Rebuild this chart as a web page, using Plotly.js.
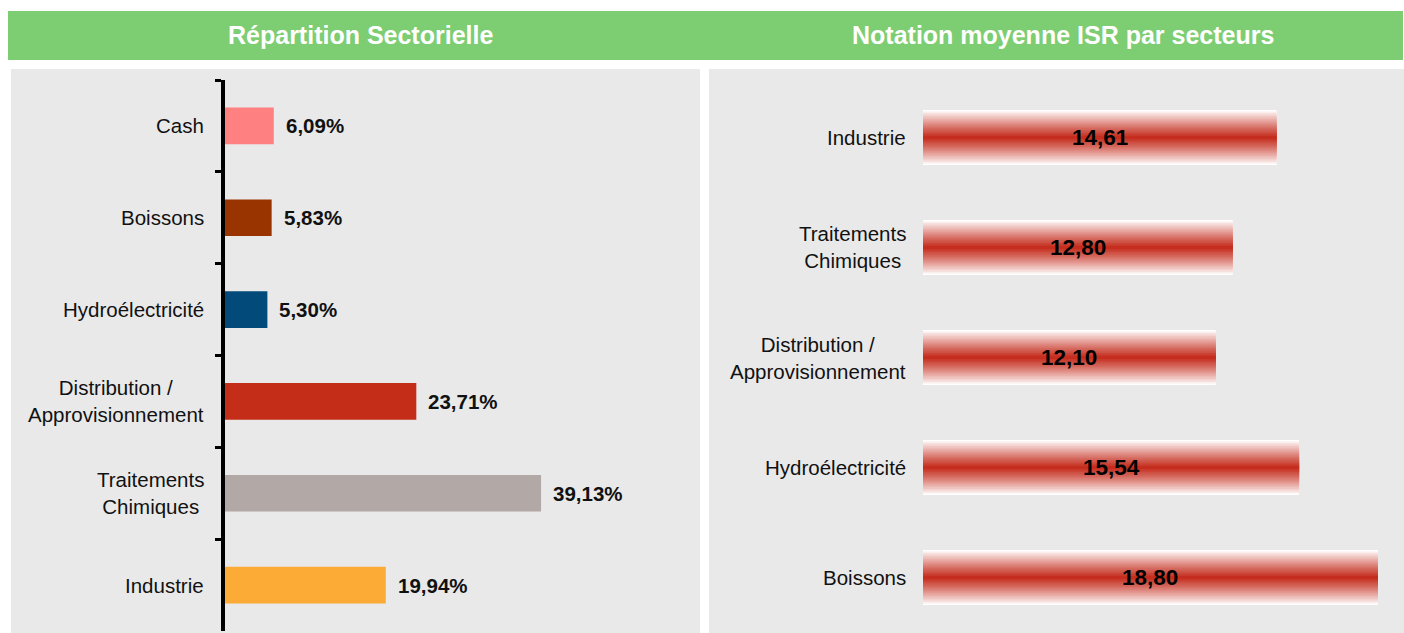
<!DOCTYPE html>
<html>
<head>
<meta charset="utf-8">
<script src="https://cdn.plot.ly/plotly-3.0.1.min.js"></script>
<style>
  html, body { margin: 0; padding: 0; background: #ffffff; }
  #chart { width: 1404px; height: 633px; }
</style>
</head>
<body>
<div id="chart"></div>
<script>
// ---------- Data ----------
const leftTitle = 'Répartition Sectorielle';
const rightTitle = 'Notation moyenne ISR par secteurs';

const leftCategories = ['Cash', 'Boissons', 'Hydroélectricité', 'Distribution /<br>Approvisionnement', 'Traitements<br>Chimiques', 'Industrie'];
const leftValues = [6.09, 5.83, 5.30, 23.71, 39.13, 19.94];
const leftLabels = ['6,09%', '5,83%', '5,30%', '23,71%', '39,13%', '19,94%'];
const leftColors = ['#FF8080', '#993300', '#024A7A', '#C42E18', '#B2A8A5', '#FCAB36'];

const rightCategories = ['Industrie', 'Traitements<br>Chimiques', 'Distribution /<br>Approvisionnement', 'Hydroélectricité', 'Boissons'];
const rightValues = [14.61, 12.80, 12.10, 15.54, 18.80];
const rightLabels = ['14,61', '12,80', '12,10', '15,54', '18,80'];
const rightBarColor = [197, 46, 30];

// ---------- Layout helpers ----------
const W = 1404, H = 633;
const px = v => v / W;
const py = v => (H - v) / H;
const FONT = 'Arial, "Liberation Sans", Helvetica, sans-serif';

const traces = [];

// Left chart: simple horizontal bars
traces.push({
  type: 'bar', orientation: 'h',
  x: leftValues, y: leftCategories,
  width: leftValues.map(() => 0.4),
  marker: { color: leftColors, line: { width: 0 } },
  xaxis: 'x', yaxis: 'y',
  hoverinfo: 'skip', showlegend: false
});

// Right chart: gradient bars (white edges -> red centre) built from overlaid bars
const nSteps = 18;
for (let i = 0; i < nSteps; i++) {
  const t = Math.pow(i / (nSteps - 1), 0.9);
  const w = 0.5 * (1 - i / nSteps);
  const c = [0, 1, 2].map(k => Math.round(255 + (rightBarColor[k] - 255) * t));
  traces.push({
    type: 'bar', orientation: 'h',
    x: rightValues, y: rightCategories,
    width: rightValues.map(() => w),
    marker: { color: 'rgb(' + c.join(',') + ')', line: { width: 0 } },
    xaxis: 'x2', yaxis: 'y2',
    hoverinfo: 'skip', showlegend: false
  });
}

const annotations = [];
// headers
annotations.push({ xref: 'paper', yref: 'paper', x: px(360.5), y: py(35), xanchor: 'center', yanchor: 'middle',
  text: leftTitle, showarrow: false, font: { family: FONT, size: 25, color: '#ffffff', weight: 700 } });
annotations.push({ xref: 'paper', yref: 'paper', x: px(1063), y: py(35), xanchor: 'center', yanchor: 'middle',
  text: rightTitle, showarrow: false, font: { family: FONT, size: 25, color: '#ffffff', weight: 700 } });

// left category labels (centred multi-line, right anchored)
leftCategories.forEach(c => annotations.push({
  xref: 'x domain', yref: 'y', x: 0, y: c, xanchor: 'right', yanchor: 'middle', align: 'center',
  xshift: -19, text: c, showarrow: false, font: { family: FONT, size: 20.5, color: '#111111' }
}));
// left value labels
leftValues.forEach((v, i) => annotations.push({
  xref: 'x', yref: 'y', x: v, y: leftCategories[i], xanchor: 'left', yanchor: 'middle',
  xshift: 10, text: leftLabels[i], showarrow: false, font: { family: FONT, size: 20.5, color: '#111111', weight: 700 }
}));
// right category labels
rightCategories.forEach(c => annotations.push({
  xref: 'x2 domain', yref: 'y2', x: 0, y: c, xanchor: 'right', yanchor: 'middle', align: 'center',
  xshift: -15, text: c, showarrow: false, font: { family: FONT, size: 20.5, color: '#111111' }
}));
// right value labels (centred on bar)
rightValues.forEach((v, i) => annotations.push({
  xref: 'x2', yref: 'y2', x: v / 2, y: rightCategories[i], xanchor: 'center', yanchor: 'middle',
  text: rightLabels[i], showarrow: false, font: { family: FONT, size: 22.5, color: '#000000', weight: 700 }
}));

const shapes = [
  { type: 'rect', xref: 'paper', yref: 'paper', x0: px(8), x1: px(1403), y0: py(60), y1: py(11),
    fillcolor: '#7DCD73', line: { width: 0 }, layer: 'below' },
  { type: 'rect', xref: 'paper', yref: 'paper', x0: px(11), x1: px(700), y0: 0, y1: py(69),
    fillcolor: '#E9E9E9', line: { width: 0 }, layer: 'below' },
  { type: 'rect', xref: 'paper', yref: 'paper', x0: px(709), x1: 1, y0: 0, y1: py(69),
    fillcolor: '#E9E9E9', line: { width: 0 }, layer: 'below' }
];

const hiddenX = { showline: false, showticklabels: false, showgrid: false, zeroline: false, ticks: '', fixedrange: true };

const layout = {
  width: W, height: H,
  margin: { l: 0, r: 0, t: 0, b: 0 },
  paper_bgcolor: '#ffffff', plot_bgcolor: 'rgba(0,0,0,0)',
  barmode: 'overlay',
  showlegend: false,
  font: { family: FONT },
  xaxis: Object.assign({}, hiddenX, { domain: [px(224.5), px(690)], range: [0, (690 - 224.5) / 8.09], anchor: 'y' }),
  yaxis: {
    domain: [py(631), py(80)], anchor: 'x',
    type: 'category', categoryorder: 'array', categoryarray: leftCategories,
    range: [leftCategories.length - 0.5, -0.5],
    showline: true, linecolor: '#000000', linewidth: 4,
    ticks: 'outside', tickson: 'boundaries', ticklen: 6, tickwidth: 3, tickcolor: '#000000',
    showticklabels: false, showgrid: false, zeroline: false, fixedrange: true
  },
  xaxis2: Object.assign({}, hiddenX, { domain: [px(923), px(1395)], range: [0, (1395 - 923) / 24.2], anchor: 'y2' }),
  yaxis2: {
    domain: [py(632.5), py(82.5)], anchor: 'x2',
    type: 'category', categoryorder: 'array', categoryarray: rightCategories,
    range: [rightCategories.length - 0.5, -0.5],
    showline: false, ticks: '', showticklabels: false, showgrid: false, zeroline: false, fixedrange: true
  },
  shapes: shapes,
  annotations: annotations
};

Plotly.newPlot('chart', traces, layout, { staticPlot: true, displayModeBar: false });
</script>
</body>
</html>
